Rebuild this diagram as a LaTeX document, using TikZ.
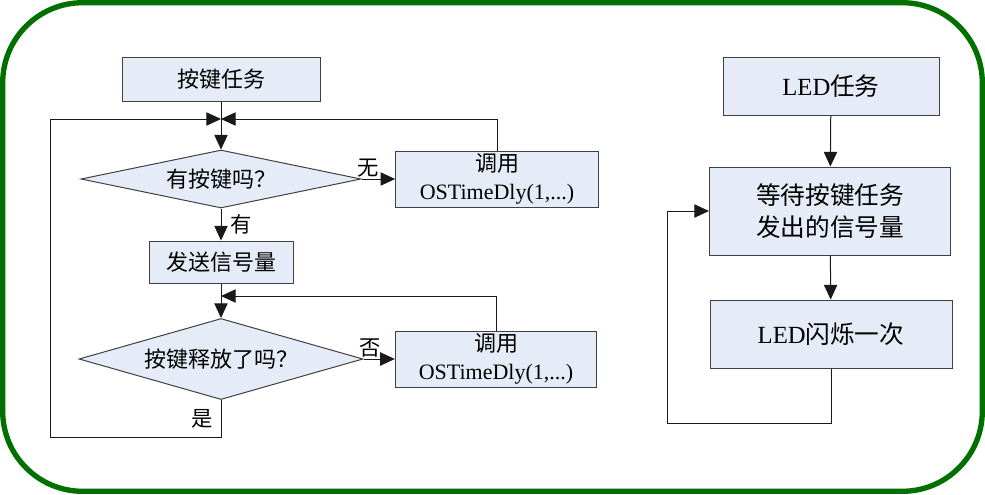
\documentclass[tikz,border=0pt]{standalone}
\usepackage{fontspec}
\setmainfont{Liberation Serif}
\newfontfamily\zh{Noto Sans CJK SC}
\usepackage{tikz}
\usetikzlibrary{arrows.meta,shapes.geometric,positioning}
\definecolor{boxfill}{RGB}{230,236,247}
\definecolor{framegreen}{RGB}{0,112,0}

\begin{document}
\begin{tikzpicture}[x=0.75pt,y=0.75pt,yscale=-1,xscale=1,
  flowbox/.style={draw=black!75,fill=boxfill,line width=0.75pt,inner sep=0pt,align=center,font=\fontsize{16.5}{21}\selectfont},
  bigbox/.style={flowbox,font=\fontsize{18.5}{24}\selectfont},
  decide/.style={flowbox,shape=diamond},
  conn/.style={draw=black!90,line width=0.75pt},
  arr/.style={conn,-{Triangle[length=11pt,width=10pt]}},
  lbl/.style={font=\fontsize{16}{21}\selectfont\zh,inner sep=1pt}]
\useasboundingbox (0,0) rectangle (985,494);

%Shape: Rounded Rectangle [frame]
\draw[framegreen,line width=4pt,rounded corners=60pt] (2.7,2.7) rectangle (982.3,491.3);

% Left chart: key task
\node[flowbox,minimum width=148.5pt,minimum height=33pt] (task1) at (221,79) {\zh 按键任务};
\node[decide,minimum width=210pt,minimum height=43.5pt,aspect=4.8] (dia1) at (221,179) {\zh 有按键吗？};
\node[flowbox,minimum width=152pt,minimum height=42pt] (callA) at (497,179) {{\zh 调用}\\OSTimeDly(1,...)};
\node[flowbox,minimum width=108pt,minimum height=31.5pt] (send) at (221,262) {\zh 发送信号量};
\node[decide,minimum width=213pt,minimum height=60.75pt,aspect=3.5] (dia2) at (221,359) {\zh 按键释放了吗？};
\node[flowbox,minimum width=151pt,minimum height=42pt] (callB) at (496,359) {{\zh 调用}\\OSTimeDly(1,...)};

\coordinate (j1) at (221,119);
\coordinate (j2) at (221,296);
\coordinate (lpA) at (50,437);

% Connection
\draw[arr] (task1) -- (dia1);
\draw[arr] (dia2.south) |- (lpA) node[lbl,pos=0.25,left=5pt] {是} |- (j1);
\draw[arr] (callA.north) |- (j1);
\draw[arr] (dia1) -- (callA) node[lbl,pos=0.2,above] {无};
\draw[arr] (dia1) -- (send) node[lbl,midway,right=6pt] {有};
\draw[arr] (send) -- (dia2);
\draw[arr] (callB.north) |- (j2);
\draw[arr] (dia2) -- (callB) node[lbl,pos=0.2,above] {否};

% Right chart: LED task
\node[bigbox,minimum width=162pt,minimum height=43.5pt] (led) at (831,86) {LED{\zh 任务}};
\node[bigbox,minimum width=180.75pt,minimum height=66pt] (wait) at (830,211) {{\zh 等待按键任务}\\{\zh 发出的信号量}};
\node[bigbox,minimum width=181.5pt,minimum height=51pt] (blink) at (831,334) {LED{\zh 闪烁一次}};

\coordinate (lpB) at (667,423);

% Connection
\draw[arr] (led) -- (wait);
\draw[arr] (wait) -- (blink);
\draw[arr] (blink) |- (lpB) |- (wait);

\end{tikzpicture}
\end{document}
